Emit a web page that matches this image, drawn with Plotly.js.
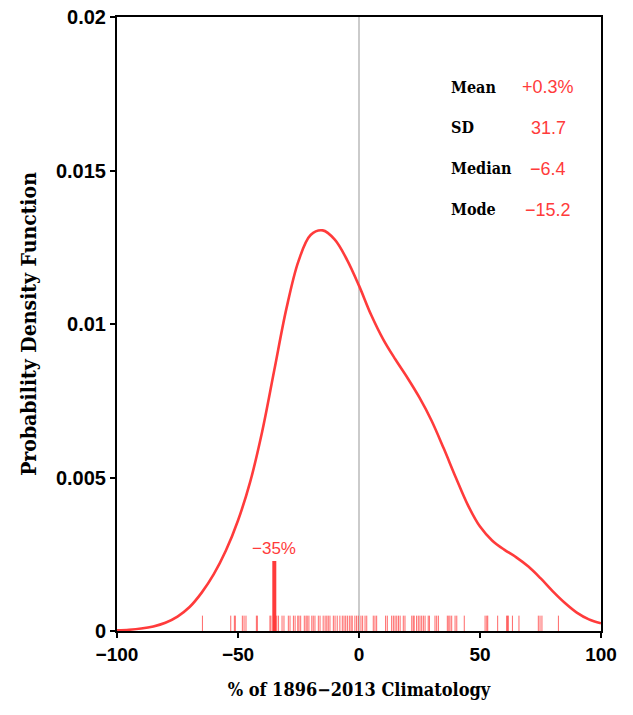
<!DOCTYPE html>
<html>
<head>
<meta charset="utf-8">
<script src="https://cdn.plot.ly/plotly-3.0.1.min.js"></script>
<style>html,body{margin:0;padding:0;background:#fff;}#chart{width:633px;height:715px;}</style>
</head>
<body>
<div id="chart"></div>
<script>
// Density curve
var curveX = [-100,-95,-90,-85,-80,-75,-70,-65,-60,-55,-50,-45,-40,-35,-30,-25,-20,-15,-10,-5,0,5,10,15,20,25,30,35,40,45,50,55,60,65,70,75,80,85,90,95,100];
var curveY = [0.00002,0.00004,0.00008,0.00015,0.00027,0.00047,0.00078,0.00125,0.00185,0.00262,0.00360,0.00485,0.00650,0.00850,0.01050,0.01205,0.01290,0.01305,0.01275,0.01210,0.01125,0.01030,0.00950,0.00885,0.00825,0.00760,0.00685,0.00595,0.00500,0.00410,0.00340,0.00295,0.00265,0.00240,0.00210,0.00172,0.00130,0.00092,0.00060,0.00038,0.00025];

// Individual years (rug)
var rugValues = [-64.7,-53.0,-51.5,-51.1,-48.2,-47.5,-46.7,-42.4,-42.0,
  -36.8,-36.4,-34.0,-33.3,-31.8,-31.0,-29.2,-28.5,-27.1,-26.4,-25.3,-24.8,-24.1,
  -22.6,-21.9,-21.4,-20.7,-19.5,-18.9,-18.2,-16.8,-16.1,-14.8,-14.0,-13.3,-12.7,
  -12.0,-10.6,-9.9,-9.0,-7.9,-6.9,-6.2,-5.5,-4.8,-4.0,-3.3,-2.8,-1.7,-1.0,-0.3,
  0.8,1.5,2.5,3.2,5.9,6.6,7.3,11.0,11.7,13.5,14.2,14.9,15.6,16.3,17.0,18.3,19.0,
  21.8,22.4,22.8,23.8,24.5,25.2,25.9,26.6,27.3,28.6,29.1,31.4,32.1,32.8,36.5,37.1,
  37.6,38.3,39.7,40.4,43.5,52.1,52.8,53.2,57.3,61.0,61.4,61.7,63.4,66.1,74.1,74.8,75.6,82.4];
var rugHeight = 0.0005;

// Highlighted year
var markValue = -35;
var markHeight = 0.00228;
var markLabel = "\u221235%";

// Statistics
var statLabels = ["Mean", "SD", "Median", "Mode"];
var statValues = ["+0.3%", "31.7", "\u22126.4", "\u221215.2"];

// Axis ticks
var xTicks = [-100, -50, 0, 50, 100];
var xTickText = ["\u2212100", "\u221250", "0", "50", "100"];
var yTicks = [0, 0.005, 0.01, 0.015, 0.02];
var yTickText = ["0", "0.005", "0.01", "0.015", "0.02"];

var red = "#ff3b3b";

var rugX = [], rugY = [];
rugValues.forEach(function(v){ rugX.push(v, v, null); rugY.push(0, rugHeight, null); });

var traces = [
  {x: [0, 0], y: [0, 0.02], mode: "lines", line: {color: "#a8a8a8", width: 1.2}, hoverinfo: "skip"},
  {x: rugX, y: rugY, mode: "lines", line: {color: "rgba(255,40,40,0.7)", width: 1}, hoverinfo: "skip"},
  {x: curveX, y: curveY, mode: "lines", line: {color: red, width: 2.6, shape: "spline", smoothing: 1}},
  {x: [markValue, markValue], y: [0, markHeight], mode: "lines", line: {color: red, width: 4}}
];

var annotations = [
  {x: markValue, y: markHeight, xref: "x", yref: "y", text: markLabel, showarrow: false,
   yanchor: "bottom", yshift: 1, font: {family: "Liberation Sans", size: 17, color: red}}
];
var rowTop = 0.01772, rowStep = 0.001335;
statLabels.forEach(function(lab, i){
  annotations.push({x: 37.2, y: rowTop - i*rowStep, xref: "x", yref: "y", text: lab, showarrow: false,
    xanchor: "left", font: {family: "DejaVu Serif Condensed", size: 16, color: "#000", weight: "bold"}});
  annotations.push({x: 78.1, y: rowTop - i*rowStep, xref: "x", yref: "y", text: statValues[i], showarrow: false,
    xanchor: "center", font: {family: "Liberation Sans", size: 18, color: red}});
});

var layout = {
  width: 633, height: 715,
  margin: {l: 117, r: 32, t: 17, b: 84},
  paper_bgcolor: "#fff", plot_bgcolor: "#fff",
  showlegend: false,
  xaxis: {
    range: [-100, 100], tickvals: xTicks, ticktext: xTickText,
    showgrid: false, zeroline: false, showline: true, linecolor: "#000", linewidth: 2, mirror: true,
    ticks: "outside", ticklen: 5, tickwidth: 2, tickcolor: "#000",
    tickfont: {family: "Liberation Sans", size: 19, color: "#000", weight: "bold"},
    title: {text: "% of 1896\u22122013 Climatology", standoff: 20,
      font: {family: "DejaVu Serif Condensed", size: 18, color: "#000", weight: "bold"}}
  },
  yaxis: {
    range: [0, 0.02], tickvals: yTicks, ticktext: yTickText,
    showgrid: false, zeroline: false, showline: true, linecolor: "#000", linewidth: 2, mirror: true,
    ticks: "outside", ticklen: 5, tickwidth: 2, tickcolor: "#000",
    tickfont: {family: "Liberation Sans", size: 20, color: "#000", weight: "bold"},
    title: {text: "Probability Density Function", standoff: 14,
      font: {family: "DejaVu Serif Condensed", size: 21, color: "#000", weight: "bold"}}
  },
  annotations: annotations
};

Plotly.newPlot("chart", traces, layout, {displayModeBar: false, staticPlot: true});
</script>
</body>
</html>
